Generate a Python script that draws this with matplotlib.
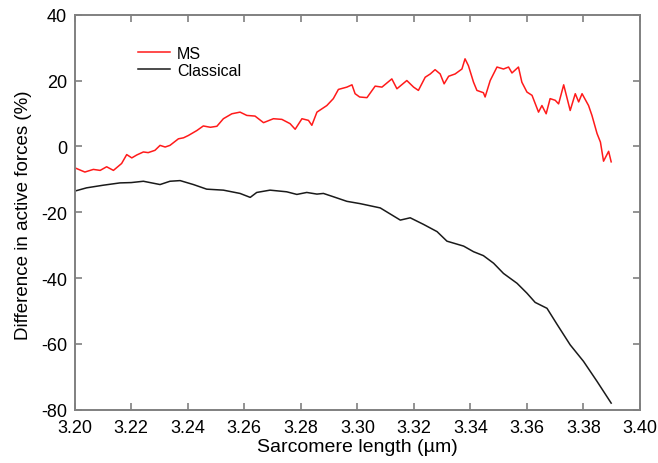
""" MS vs classical active-force difference """
import numpy as np
from matplotlib import pyplot as plt

plt.rcParams['font.family'] = ['Liberation Sans', 'DejaVu Sans']
plt.rcParams['axes.unicode_minus'] = False

# MS model
ms_x = [3.2000, 3.2036, 3.2066, 3.2090, 3.2113, 3.2137, 3.2166, 3.2184, 3.2202,
        3.2220, 3.2243, 3.2260, 3.2284, 3.2302, 3.2320, 3.2337, 3.2367, 3.2385,
        3.2402, 3.2432, 3.2455, 3.2480, 3.2503, 3.2526, 3.2556, 3.2585, 3.2609,
        3.2638, 3.2668, 3.2703, 3.2733, 3.2762, 3.2780, 3.2804, 3.2827, 3.2839,
        3.2857, 3.2892, 3.2915, 3.2933, 3.2963, 3.2981, 3.2992, 3.3008, 3.3034,
        3.3063, 3.3087, 3.3122, 3.3140, 3.3175, 3.3199, 3.3216, 3.3240, 3.3258,
        3.3275, 3.3293, 3.3307, 3.3323, 3.3346, 3.3370, 3.3381, 3.3393, 3.3411,
        3.3423, 3.3446, 3.3452, 3.3470, 3.3494, 3.3517, 3.3535, 3.3547, 3.3570,
        3.3582, 3.3600, 3.3618, 3.3641, 3.3653, 3.3668, 3.3682, 3.3700, 3.3712,
        3.3730, 3.3753, 3.3771, 3.3783, 3.3795, 3.3818, 3.3830, 3.3848, 3.3860,
        3.3871, 3.3889, 3.3898]
ms_y = [-6.5, -7.8, -7.0, -7.3, -6.2, -7.3, -5.2, -2.5, -3.5,
        -2.6, -1.7, -1.9, -1.2, 0.3, -0.2, 0.3, 2.3, 2.6,
        3.3, 4.8, 6.2, 5.8, 6.1, 8.4, 9.9, 10.4, 9.4,
        9.2, 7.2, 8.4, 8.2, 6.9, 5.2, 8.4, 7.9, 6.4,
        10.4, 12.4, 14.5, 17.3, 18.0, 18.7, 16.0, 15.0, 14.8,
        18.3, 18.0, 20.5, 17.5, 20.0, 18.0, 17.0, 21.0, 22.0,
        23.3, 22.0, 19.0, 21.3, 22.0, 23.5, 26.6, 24.5, 19.5,
        17.0, 16.3, 15.0, 20.0, 24.1, 23.5, 24.1, 22.3, 24.1,
        19.5, 16.5, 15.5, 10.4, 12.4, 9.9, 14.5, 14.0, 12.9,
        18.7, 10.9, 16.0, 13.5, 16.0, 12.4, 9.4, 3.9, 1.3,
        -4.5, -1.5, -4.7]

# Classical model
cl_x = [3.2000, 3.2042, 3.2101, 3.2160, 3.2200, 3.2243, 3.2302, 3.2337, 3.2373,
        3.2420, 3.2467, 3.2526, 3.2585, 3.2621, 3.2644, 3.2691, 3.2750, 3.2786,
        3.2821, 3.2857, 3.2880, 3.2915, 3.2963, 3.3010, 3.3081, 3.3152, 3.3187,
        3.3234, 3.3282, 3.3317, 3.3376, 3.3411, 3.3446, 3.3482, 3.3517, 3.3565,
        3.3600, 3.3629, 3.3671, 3.3706, 3.3753, 3.3800, 3.3848, 3.3898]
cl_y = [-13.6, -12.6, -11.8, -11.1, -11.0, -10.6, -11.6, -10.6, -10.4,
        -11.6, -13.0, -13.3, -14.3, -15.5, -14.0, -13.3, -13.8, -14.6,
        -14.0, -14.5, -14.3, -15.3, -16.7, -17.4, -18.7, -22.4, -21.7,
        -23.7, -25.9, -28.8, -30.3, -32.0, -33.2, -35.5, -38.6, -41.6,
        -44.6, -47.4, -49.2, -54.0, -60.3, -65.3, -71.4, -78.0]

xticks = [3.20, 3.22, 3.24, 3.26, 3.28, 3.30, 3.32, 3.34, 3.36, 3.38, 3.40]
yticks = [-80, -60, -40, -20, 0, 20, 40]

W, H = 658, 464
fig = plt.figure(figsize=(W/100, H/100), dpi=100)
ax = fig.add_axes([74.7/W, (H-410.7)/H, (640-74.7)/W, (410.7-15.7)/H])

ax.plot(ms_x, ms_y, color='#ff1a1a', lw=1.1, label='MS')
ax.plot(cl_x, cl_y, color='#1a1a1a', lw=1.1, label='Classical')

ax.set_xlim(3.20, 3.40)
ax.set_ylim(-80, 40)
ax.set_xticks(xticks)
ax.set_xticklabels([f'{t:.2f}' for t in xticks])
ax.set_yticks(yticks)

for sp in ax.spines.values():
    sp.set_color('#808080')
    sp.set_linewidth(1.4)
ax.tick_params(direction='in', top=True, right=True, length=5, width=1.2,
               color='#808080', labelsize=13)
ax.tick_params(axis='x', pad=7)
ax.tick_params(axis='y', pad=5.5)

ax.set_xlabel('Sarcomere length (µm)', fontsize=14, labelpad=1)
ax.set_ylabel('Difference in active forces (%)', fontsize=13.5)
ax.yaxis.set_label_coords(-0.075, 0.495)

ax.legend(loc='upper left', bbox_to_anchor=(0.112, 0.921), frameon=False,
          borderpad=0, borderaxespad=0, handlelength=2.0, handletextpad=0.45,
          labelspacing=0.1, fontsize=11.5)

plt.savefig('out.png', dpi=100)
print('Saved out.png')
